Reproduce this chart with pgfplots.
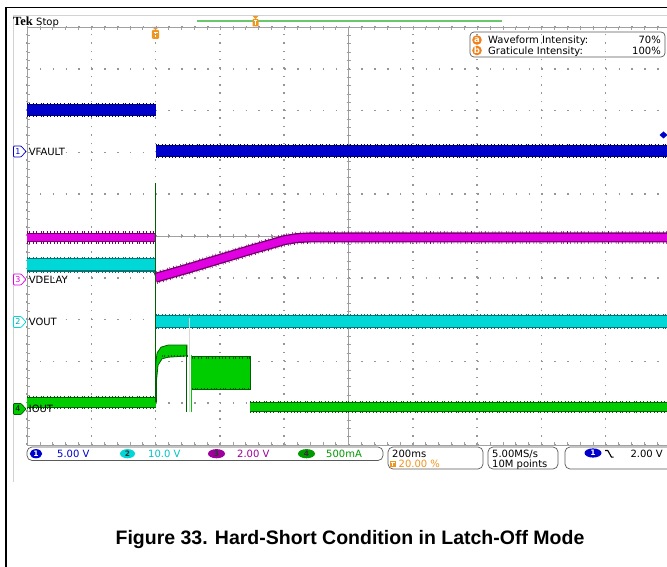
\documentclass[border=0pt]{standalone}
\usepackage{pgfplots}
\pgfplotsset{compat=1.18}
\usepackage{fontspec}
\setmainfont{DejaVu Sans}
\newfontfamily\capfont{Liberation Sans}
\newfontfamily\tekfont{Liberation Serif}
\definecolor{cA}{RGB}{0,0,205}
\definecolor{cAd}{RGB}{0,0,105}
\definecolor{cB}{RGB}{0,215,215}
\definecolor{cBd}{RGB}{0,115,115}
\definecolor{cC}{RGB}{225,0,225}
\definecolor{cCd}{RGB}{115,0,105}
\definecolor{cD}{RGB}{0,205,0}
\definecolor{cDd}{RGB}{0,95,0}
\definecolor{tekorange}{RGB}{240,150,30}
\definecolor{gridc}{RGB}{150,150,150}
\definecolor{framec}{RGB}{160,160,160}
\definecolor{boxc}{RGB}{90,90,90}
\newcommand\band[4]{%
  \addplot[draw=#2, line width=#3pt+2.6pt, dash pattern=on 0.5pt off 1.9pt on 0.4pt off 3.3pt on 0.7pt off 2.4pt on 0.4pt off 4.1pt, forget plot] coordinates {#4};
  \addplot[draw=#2, line width=#3pt, forget plot] coordinates {#4};
  \addplot[draw=#1, line width=#3pt-2.6pt, forget plot] coordinates {#4};
}
\begin{document}
\begin{tikzpicture}[x=1pt,y=1pt]
\useasboundingbox (0,0) rectangle (667,567);
\clip (0,0) rectangle (667,567);
\fill[white] (0,0) rectangle (667,567);
% outer frame
\draw[black, line width=1.6pt] (6,-2) -- (6,559.5) -- (670,559.5);
\draw[gray!35, line width=0.8pt] (13,85) -- (13,552) -- (670,552);
% Tek Stop
\node[anchor=base west, inner sep=0pt, font=\tekfont\bfseries\fontsize{12.5}{13}\selectfont] at (13,541.3) {Tek};
\node[anchor=base west, inner sep=0pt, font=\fontsize{10}{12}\selectfont] at (36,541.3) {Stop};
% record bar
\draw[green!45!gray!80, line width=1.2pt] (197,546) -- (502,546);
\fill[tekorange] (252.5,551) -- (258.5,551) -- (255.5,548) -- cycle;
\fill[tekorange, rounded corners=0.8pt] (252.5,540.5) rectangle (258.5,548);
\draw[white, line width=0.7pt] (253.8,546.3) -- (257.2,546.3) (255.5,546.3) -- (255.5,541.8);
% trigger position marker
\fill[tekorange] (152,540) -- (159,540) -- (155.5,537) -- cycle;
\fill[tekorange, rounded corners=1.2pt] (151.8,528) rectangle (159.2,537);
\draw[white, line width=0.8pt] (153.5,534.8) -- (157.5,534.8) (155.5,534.8) -- (155.5,530);
% crosshair
\draw[framec, line width=0.6pt] (348.5,122) -- (348.5,540);
\draw[framec, line width=0.6pt] (27,331) -- (670,331);
\foreach \k in {0,...,50} { \draw[framec,line width=0.5pt] (346.5,122+\k*8.36) -- (350.5,122+\k*8.36); }
\foreach \k in {0,...,50} { \draw[framec,line width=0.5pt] (27+\k*12.86,329) -- (27+\k*12.86,333); }
\begin{axis}[at={(27pt,122pt)}, anchor=south west, width=643pt, height=418pt, scale only axis,
  xmin=-400, xmax=1600, ymin=-5, ymax=5,
  xtick={-400,-200,...,1600}, ytick={-5,-4,...,5}, xticklabels={}, yticklabels={},
  minor x tick num=4, minor y tick num=4, tick align=inside,
  major tick length=3pt, minor tick length=3pt,
  tick style={framec, line width=0.5pt}, axis line style={framec, line width=0.7pt},
  xmajorgrids=true, ymajorgrids=true,
  x grid style={gridc, line width=1.5pt, dash pattern=on 1.5pt off 6.86pt},
  y grid style={gridc, line width=1.5pt, dash pattern=on 1.5pt off 11.36pt}]
% CH1 VFAULT (blue)
\band{cA}{cAd}{12}{(-400,3.01) (0,3.01)}
\band{cA}{cAd}{12}{(0,2.03) (1600,2.03)}
% CH3 VDELAY (magenta)
\band{cC}{cCd}{9.5}{(-400,-0.035) (0,-0.035)}
\band{cC}{cCd}{10}{(0,-1.0) (100,-0.78) (200,-0.55) (300,-0.32) (360,-0.19) (400,-0.10) (440,-0.05) (480,-0.035) (1600,-0.035)}
% CH2 VOUT (cyan)
\band{cB}{cBd}{13.5}{(-400,-0.69) (0,-0.69)}
\band{cB}{cBd}{13}{(0,-2.05) (1600,-2.05)}
% CH4 IOUT (green)
\band{cD}{cDd}{11}{(-400,-3.98) (0,-3.98)}
\addplot[fill=cD, draw=cDd, line width=0.8pt, forget plot] coordinates {(0,-3.97) (0,-3.09) (4.4,-2.80) (16.8,-2.66) (38.6,-2.61) (97.7,-2.61) (97.7,-2.87) (38.6,-2.90) (19.9,-2.94) (7.5,-3.09) (3,-3.44) (3,-3.97)} -- cycle;
\addplot[draw=cDd, line width=2.2pt, dash pattern=on 0.5pt off 1.9pt on 0.4pt off 3.3pt on 0.7pt off 2.4pt, forget plot] coordinates {(20,-2.88) (97,-2.88)};
\addplot[fill=cD, draw=cDd, line width=0.9pt, forget plot] coordinates {(113,-2.87) (294,-2.87) (294,-3.68) (113,-3.68)} -- cycle;
\addplot[draw=cDd, line width=2.6pt, dash pattern=on 0.5pt off 1.9pt on 0.4pt off 3.3pt on 0.7pt off 2.4pt on 0.4pt off 4.1pt, forget plot] coordinates {(113,-2.90) (294,-2.90)};
\addplot[draw=cDd, line width=2.6pt, dash pattern=on 0.6pt off 2.5pt on 0.4pt off 1.8pt on 0.5pt off 3.6pt, forget plot] coordinates {(113,-3.66) (294,-3.66)};
\addplot[draw=gray!30, line width=1.2pt, forget plot] coordinates {(105,-1.95) (105,-4.2)};
\addplot[draw=cDd, line width=1.1pt, forget plot] coordinates {(97,-2.62) (97,-4.2)};
\addplot[draw=cD, line width=1.3pt, forget plot] coordinates {(112,-2.85) (112,-4.2)};
\band{cD}{cDd}{10}{(294,-4.09) (1600,-4.09)}
\addplot[draw=cDd, line width=1pt, forget plot] coordinates {(0,1.27) (0,-3.97)};
\end{axis}
% trigger level marker
\fill[cA] (659.5,432) -- (663.5,435.5) -- (667.5,432) -- (663.5,428.5) -- cycle;
% channel labels
\begin{scope}[line width=0.7pt]
\draw[cA, fill=white, rounded corners=0.8pt] (13.5,410) -- (13.5,421) -- (21,421) -- (26,415.5) -- (21,410) -- cycle;
\node[cA, inner sep=0pt, font=\fontsize{8}{8}\selectfont] at (17.8,415.5) {1};
\node[anchor=base west, inner sep=0pt, font=\fontsize{10}{12}\selectfont] at (28.5,411.8) {VFAULT};
\draw[cC, fill=white, rounded corners=0.8pt] (13.5,282) -- (13.5,293) -- (21,293) -- (26,287.5) -- (21,282) -- cycle;
\node[cC, inner sep=0pt, font=\fontsize{8}{8}\selectfont] at (17.8,287.5) {3};
\node[anchor=base west, inner sep=0pt, font=\fontsize{10}{12}\selectfont] at (28.5,283.8) {VDELAY};
\draw[cB, fill=white, rounded corners=0.8pt] (13.5,239.5) -- (13.5,250.5) -- (21,250.5) -- (26,245) -- (21,239.5) -- cycle;
\node[cB!80!black, inner sep=0pt, font=\fontsize{8}{8}\selectfont] at (17.8,245) {2};
\node[anchor=base west, inner sep=0pt, font=\fontsize{10}{12}\selectfont] at (28.5,241.3) {VOUT};
\draw[cDd, fill=cD, rounded corners=0.8pt] (13.5,152.5) -- (13.5,163.5) -- (21,163.5) -- (26,158) -- (21,152.5) -- cycle;
\node[black, inner sep=0pt, font=\fontsize{8}{8}\selectfont] at (17.8,158) {4};
\node[anchor=base west, inner sep=0pt, font=\fontsize{10}{12}\selectfont] at (28.5,154.3) {IOUT};
\end{scope}
% intensity box
\draw[boxc, line width=0.7pt, rounded corners=4pt] (470,510) rectangle (665,535);
\fill[tekorange!85!red] (477,527) circle (4.8);
\fill[tekorange!85!red] (477,516.5) circle (4.8);
\node[white, inner sep=0pt, font=\bfseries\fontsize{8.5}{9}\selectfont] at (477,527.3) {a};
\node[white, inner sep=0pt, font=\bfseries\fontsize{8.5}{9}\selectfont] at (477,516.8) {b};
\node[anchor=base west, inner sep=0pt, font=\fontsize{10}{12}\selectfont] at (488,523.7) {Waveform Intensity:};
\node[anchor=base east, inner sep=0pt, font=\fontsize{10}{12}\selectfont] at (661,523.7) {70\%};
\node[anchor=base west, inner sep=0pt, font=\fontsize{10}{12}\selectfont] at (488,512.2) {Graticule Intensity:};
\node[anchor=base east, inner sep=0pt, font=\fontsize{10}{12}\selectfont] at (661,512.2) {100\%};
% bottom status bar
\draw[boxc, line width=0.7pt, rounded corners=5pt] (27,106.5) rectangle (383,120);
\draw[boxc, line width=0.7pt, rounded corners=5pt] (388,98) rectangle (483,120);
\draw[boxc, line width=0.7pt, rounded corners=5pt] (488,98) rectangle (558,120);
\draw[boxc, line width=0.7pt, rounded corners=5pt] (565,98) rectangle (690,120);
\fill[cA] (36,113.3) ellipse (6.2 and 4.6);
\node[white, inner sep=0pt, font=\bfseries\fontsize{7.5}{8}\selectfont] at (36,113.3) {1};
\node[anchor=base west, inner sep=0pt, text=cA, font=\fontsize{10}{12}\selectfont] at (57,109.5) {5.00 V};
\fill[cB] (127.5,113.3) ellipse (7.5 and 4.6);
\node[black!80, inner sep=0pt, font=\bfseries\fontsize{7.5}{8}\selectfont] at (127.5,113.3) {2};
\node[anchor=base west, inner sep=0pt, text=cB!90!black, font=\fontsize{10}{12}\selectfont] at (148,109.5) {10.0 V};
\fill[cC!70!black] (216.5,113.3) ellipse (8.5 and 4.6);
\node[black!80, inner sep=0pt, font=\bfseries\fontsize{7.5}{8}\selectfont] at (216.5,113.3) {3};
\node[anchor=base west, inner sep=0pt, text=cC!70!black, font=\fontsize{10}{12}\selectfont] at (237,109.5) {2.00 V};
\fill[cD!75!black] (306.5,113.3) ellipse (8.5 and 4.6);
\node[black!80, inner sep=0pt, font=\bfseries\fontsize{7.5}{8}\selectfont] at (306.5,113.3) {4};
\node[anchor=base west, inner sep=0pt, text=cD!75!black, font=\fontsize{10}{12}\selectfont] at (326,109.5) {500mA};
\node[anchor=base west, inner sep=0pt, font=\fontsize{10}{12}\selectfont] at (392,109.7) {200ms};
\fill[tekorange] (389.5,99.8) rectangle (396,106.3);
\draw[white, line width=0.6pt] (390.7,105) -- (394.8,105) (392.75,105) -- (392.75,100.8);
\node[anchor=base west, inner sep=0pt, text=tekorange, font=\fontsize{10}{12}\selectfont] at (398.5,99.7) {20.00 \%};
\node[anchor=base west, inner sep=0pt, font=\fontsize{10}{12}\selectfont] at (492,109.7) {5.00MS/s};
\node[anchor=base west, inner sep=0pt, font=\fontsize{10}{12}\selectfont] at (492,99.7) {10M points};
\fill[cA] (593,114) ellipse (8.5 and 4.6);
\node[white, inner sep=0pt, font=\bfseries\fontsize{7.5}{8}\selectfont] at (593,114) {1};
\draw[black, line width=1.1pt] (605,116.5) -- (607.8,116.5) -- (611.5,109.8) -- (613.5,109.8);
\node[anchor=base east, inner sep=0pt, font=\fontsize{10}{12}\selectfont] at (663,109.7) {2.00 V};
% caption
\node[anchor=base, inner sep=0pt, font=\capfont\bfseries\fontsize{19.5}{22}\selectfont] at (350,22) {Figure 33. Hard-Short Condition in Latch-Off Mode};
\end{tikzpicture}
\end{document}
